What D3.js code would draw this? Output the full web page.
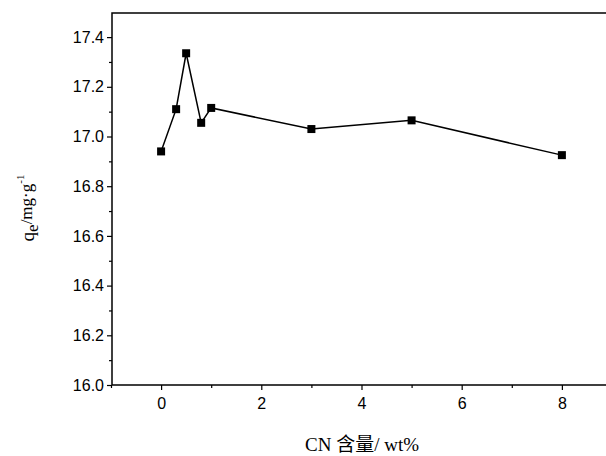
<!DOCTYPE html>
<html>
<head>
<script src="https://d3js.org/d3.v7.min.js"></script>
<style>body{margin:0;background:#fff;overflow:hidden}svg{display:block}</style>
</head>
<body>
<div class="chart"></div>
<script>
var cn = [0, 0.3, 0.5, 0.8, 1, 3, 5, 8];
var qe = [16.94, 17.11, 17.335, 17.055, 17.115, 17.03, 17.065, 16.925];
var xTicks = [0, 2, 4, 6, 8];
var yTicks = [16.0, 16.2, 16.4, 16.6, 16.8, 17.0, 17.2, 17.4];

var w = 606, h = 456;
var mLeft = 112, mTop = 13, mRight = 620, mBottom = 385;

var x = d3.scaleLinear().domain([-0.98, 9.16]).range([mLeft, mRight]);
var y = d3.scaleLinear().domain([16.0, 17.497]).range([mBottom, mTop]);

var svg = d3.select("div.chart").append("svg").attr("width", w).attr("height", h);

// frame: left, top and bottom sides (right side lies beyond the picture)
svg.append("path")
  .attr("d", "M" + w + "," + mTop + "H" + mLeft + "V" + mBottom + "H" + w)
  .attr("fill", "none").attr("stroke", "#000").attr("stroke-width", 1.5);

svg.append("g").attr("transform", "translate(0," + mBottom + ")")
  .call(d3.axisBottom(x).tickValues(xTicks).tickFormat(d3.format("d")).tickSize(5).tickPadding(8));
svg.append("g").attr("transform", "translate(0," + mBottom + ")")
  .call(d3.axisBottom(x).tickValues([-1, 1, 3, 5, 7]).tickFormat("").tickSize(3));
svg.append("g").attr("transform", "translate(" + mLeft + ",0)")
  .call(d3.axisLeft(y).tickValues(yTicks).tickFormat(d3.format(".1f")).tickSize(5).tickPadding(3));
svg.append("g").attr("transform", "translate(" + mLeft + ",0)")
  .call(d3.axisLeft(y).tickValues([16.1, 16.3, 16.5, 16.7, 16.9, 17.1, 17.3]).tickFormat("").tickSize(3));
svg.selectAll(".domain").remove();
svg.selectAll(".tick line").attr("stroke-width", 1.2);
svg.selectAll(".tick text").attr("font-family", "Arial, Liberation Sans, sans-serif").attr("font-size", 16).attr("fill", "#000");

var line = d3.line().x(function(d, i){ return x(cn[i]); }).y(function(d){ return y(d); });
svg.append("path").attr("d", line(qe)).attr("fill", "none").attr("stroke", "#000").attr("stroke-width", 1.5);

svg.selectAll("rect.pt").data(qe).enter().append("rect").attr("class", "pt")
  .attr("x", function(d, i){ return x(cn[i]) - 4; }).attr("y", function(d){ return y(d) - 4; })
  .attr("width", 8).attr("height", 8).attr("fill", "#000");

svg.append("text").attr("x", 362).attr("y", 451).attr("text-anchor", "middle")
  .attr("font-family", "Liberation Serif, Noto Sans CJK SC, serif").attr("font-size", 19)
  .text("CN 含量/ wt%");

var yl = svg.append("text").attr("transform", "translate(34,208) rotate(-90)").attr("text-anchor", "middle")
  .attr("font-family", "Liberation Serif, serif").attr("font-size", 19);
yl.append("tspan").text("q");
yl.append("tspan").attr("dy", 4).attr("font-size", 17).text("e");
yl.append("tspan").attr("dy", -6).attr("font-size", 17).text("/mg·g");
yl.append("tspan").attr("dy", -8).attr("font-size", 11).text("-1");
</script>
</body>
</html>
